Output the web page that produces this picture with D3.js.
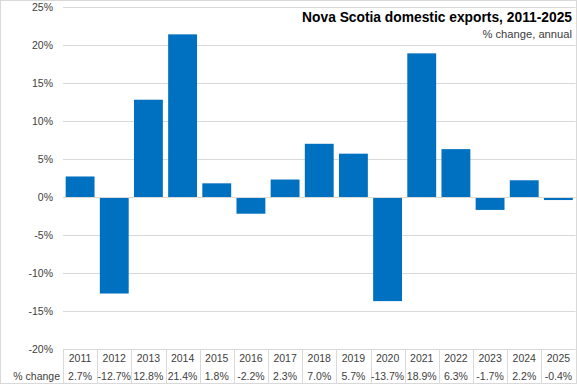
<!DOCTYPE html>
<html>
<head>
<meta charset="utf-8">
<script src="https://cdn.jsdelivr.net/npm/d3@7"></script>
<style>
  body { margin: 0; background: #fff; }
  text { fill: #404040; }
</style>
</head>
<body>
<script>
var years = ["2011","2012","2013","2014","2015","2016","2017","2018","2019","2020","2021","2022","2023","2024","2025"];
var pctChange = [2.7, -12.7, 12.8, 21.4, 1.8, -2.2, 2.3, 7.0, 5.7, -13.7, 18.9, 6.3, -1.7, 2.2, -0.4];
var yTicks = [25, 20, 15, 10, 5, 0, -5, -10, -15, -20];

var width = 577,
    height = 384;

var svg = d3.select("body").append("svg")
    .attr("width", width)
    .attr("height", height)
    .style("display", "block");

// outer chart border
svg.append("rect")
    .attr("x", 0.5).attr("y", 0.5)
    .attr("width", width - 1).attr("height", height - 1)
    .attr("fill", "none")
    .attr("stroke", "#d9d9d9");

var x = d3.scaleBand()
    .domain(years)
    .range([63, 575.5])
    .paddingInner(0.155)
    .paddingOuter(0.078);

var y = d3.scaleLinear()
    .domain([-20, 25])
    .range([349, 7]);

// gridlines
svg.append("g").selectAll("line")
    .data(yTicks)
    .enter().append("line")
    .attr("x1", 63).attr("x2", 575.5)
    .attr("y1", function(d) { return Math.round(y(d)) + 0.5; })
    .attr("y2", function(d) { return Math.round(y(d)) + 0.5; })
    .attr("stroke", "#d9d9d9")
    .attr("stroke-width", 1);

// y tick labels
svg.append("g").selectAll("text")
    .data(yTicks)
    .enter().append("text")
    .attr("x", 53)
    .attr("y", function(d) { return y(d) + 4; })
    .attr("text-anchor", "end")
    .style("font-family", "'Liberation Sans', Arial, sans-serif")
    .style("font-size", "10.5px")
    .text(function(d) { return d + "%"; });

// bars
svg.append("g").selectAll("rect")
    .data(pctChange)
    .enter().append("rect")
    .attr("x", function(d, i) { return x(years[i]); })
    .attr("width", x.bandwidth())
    .attr("y", function(d) { return d >= 0 ? y(d) : y(0) + 1; })
    .attr("height", function(d) { return d >= 0 ? y(0) - y(d) : y(d) - y(0) - 1; })
    .attr("fill", "#0070c0");

// data table below the plot
var x0 = 63, colW = 512.5 / years.length;
var tbl = svg.append("g");
tbl.selectAll("line")
    .data(d3.range(years.length + 1))
    .enter().append("line")
    .attr("x1", function(i) { return Math.round(x0 + i * colW) + 0.5; })
    .attr("x2", function(i) { return Math.round(x0 + i * colW) + 0.5; })
    .attr("y1", 349).attr("y2", 384)
    .attr("stroke", "#d9d9d9");

tbl.selectAll("text.yr")
    .data(years)
    .enter().append("text")
    .attr("class", "yr")
    .attr("x", function(d, i) { return x0 + (i + 0.5) * colW; })
    .attr("y", 362)
    .attr("text-anchor", "middle")
    .style("font-family", "'Liberation Sans Narrow', 'Liberation Sans', sans-serif")
    .style("font-size", "10.5px")
    .text(function(d) { return d; });

tbl.selectAll("text.val")
    .data(pctChange)
    .enter().append("text")
    .attr("class", "val")
    .attr("x", function(d, i) { return x0 + (i + 0.5) * colW; })
    .attr("y", 380)
    .attr("text-anchor", "middle")
    .style("font-family", "'Liberation Sans Narrow', 'Liberation Sans', sans-serif")
    .style("font-size", "10.5px")
    .text(function(d) { return d.toFixed(1) + "%"; });

tbl.append("text")
    .attr("x", 60)
    .attr("y", 380)
    .attr("text-anchor", "end")
    .style("font-family", "'Liberation Sans Narrow', 'Liberation Sans', sans-serif")
    .style("font-size", "10.5px")
    .text("% change");

// title
svg.append("text")
    .attr("x", 572)
    .attr("y", 22)
    .attr("text-anchor", "end")
    .style("font-family", "'Liberation Sans', Arial, sans-serif")
    .style("font-weight", "bold")
    .style("font-size", "13.8px")
    .style("fill", "#000")
    .text("Nova Scotia domestic exports, 2011-2025");

svg.append("text")
    .attr("x", 572)
    .attr("y", 38)
    .attr("text-anchor", "end")
    .style("font-family", "'Liberation Sans', Arial, sans-serif")
    .style("font-size", "11.2px")
    .text("% change, annual");
</script>
</body>
</html>
